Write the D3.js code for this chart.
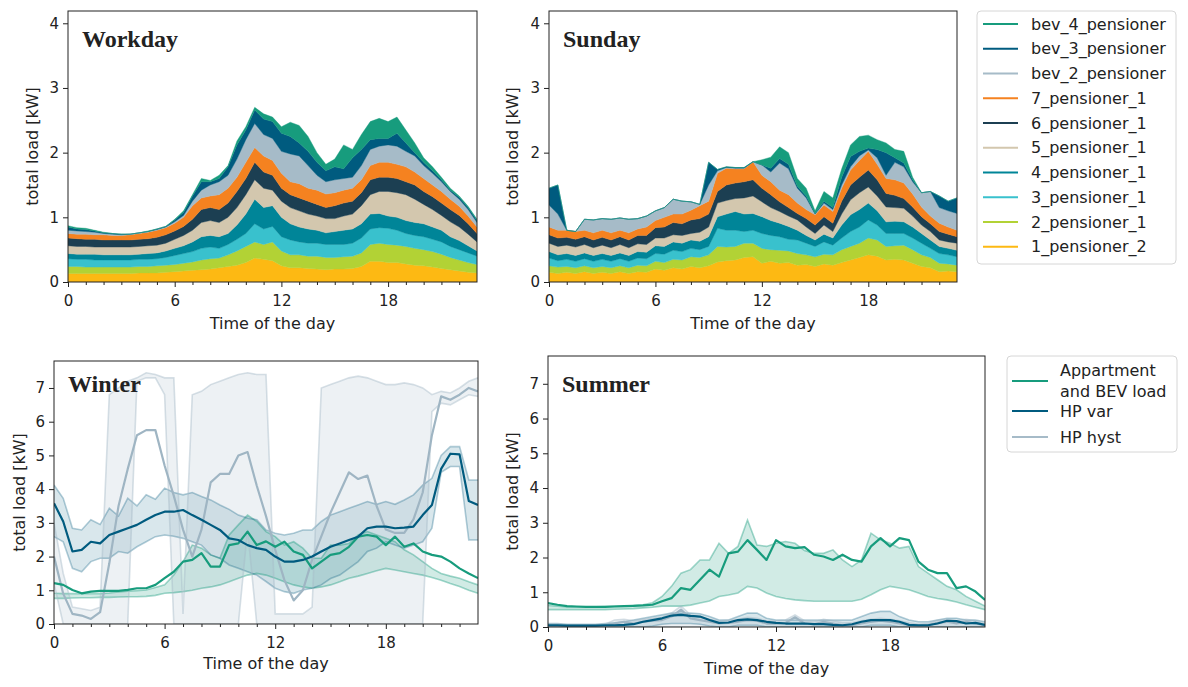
<!DOCTYPE html>
<html>
<head>
<meta charset="utf-8">
<script src="https://cdn.jsdelivr.net/npm/d3@7"></script>
<style>
  body { margin: 0; background: #fff; }
  text { font-family: "DejaVu Sans", sans-serif; fill: #222; }
</style>
</head>
<body>
<svg id="fig" width="1188" height="687"></svg>
<script>
// time of the day, half-hour steps
var hours = [0, 0.5, 1, 1.5, 2, 2.5, 3, 3.5, 4, 4.5, 5, 5.5, 6, 6.5, 7, 7.5, 8, 8.5, 9, 9.5,
  10, 10.5, 11, 11.5, 12, 12.5, 13, 13.5, 14, 14.5, 15, 15.5, 16, 16.5, 17, 17.5, 18, 18.5,
  19, 19.5, 20, 20.5, 21, 21.5, 22, 22.5, 23];
var hourTicks = [0, 6, 12, 18];

// stacked households, bottom to top
var householdNames = ['1_pensioner_2', '2_pensioner_1', '3_pensioner_1', '4_pensioner_1', '5_pensioner_1',
  '6_pensioner_1', '7_pensioner_1', 'bev_2_pensioner', 'bev_3_pensioner', 'bev_4_pensioner'];
var householdColors = ['#fdb913', '#b2d235', '#39c1cd', '#008598', '#d3c7ae',
  '#1c3f52', '#f58220', '#a6bbc8', '#005b7f', '#179c7d'];

// workday load per household [kW]
var wd_1_pensioner_2 = [.13,.13,.13,.13,.13,.13,.13,.13,.14,.14,.14,.15,.16,.17,.18,.19,.20,.22,.24,.26,.30,.37,.35,.33,.25,.22,.22,.21,.20,.19,.20,.20,.21,.24,.32,.32,.30,.30,.28,.26,.25,.23,.21,.19,.17,.15,.14];
var wd_2_pensioner_1 = [.11,.11,.10,.10,.10,.10,.10,.10,.10,.10,.11,.11,.11,.12,.13,.15,.16,.15,.18,.22,.25,.25,.23,.29,.23,.20,.20,.19,.20,.19,.18,.19,.19,.21,.26,.28,.28,.27,.27,.26,.25,.24,.22,.19,.17,.15,.13];
var wd_3_pensioner_1 = [.12,.11,.12,.11,.11,.11,.11,.11,.11,.11,.11,.12,.14,.15,.16,.18,.18,.15,.16,.18,.20,.28,.24,.24,.22,.23,.20,.20,.20,.20,.20,.19,.20,.23,.24,.24,.25,.23,.20,.20,.20,.19,.19,.17,.16,.15,.13];
var wd_4_pensioner_1 = [.08,.08,.08,.09,.08,.08,.08,.08,.08,.09,.09,.10,.11,.12,.15,.18,.18,.18,.17,.22,.30,.38,.33,.32,.30,.25,.23,.22,.20,.18,.20,.22,.22,.22,.23,.22,.19,.20,.20,.20,.20,.19,.18,.15,.14,.11,.08];
var wd_5_pensioner_1 = [.12,.12,.12,.11,.12,.12,.12,.12,.12,.12,.12,.12,.14,.16,.18,.22,.23,.22,.25,.27,.30,.30,.30,.24,.25,.25,.25,.23,.22,.22,.20,.22,.23,.28,.30,.34,.38,.38,.40,.36,.30,.27,.23,.23,.21,.18,.14];
var wd_6_pensioner_1 = [.12,.12,.11,.12,.11,.11,.11,.11,.11,.11,.12,.13,.13,.14,.17,.20,.20,.20,.22,.25,.25,.27,.25,.23,.20,.20,.20,.20,.18,.17,.20,.20,.20,.20,.23,.22,.22,.22,.20,.22,.20,.20,.19,.19,.18,.16,.13];
var wd_7_pensioner_1 = [.07,.07,.08,.07,.08,.07,.07,.08,.09,.10,.11,.11,.12,.14,.21,.18,.18,.23,.23,.22,.25,.23,.25,.23,.23,.20,.22,.20,.22,.21,.20,.20,.20,.20,.22,.23,.23,.22,.23,.20,.20,.18,.18,.16,.14,.12,.10];
var wd_bev_2_pensioner = [.05,.05,.04,.04,.02,.02,.01,.01,.01,.01,.01,.01,.02,.03,.07,.12,.17,.20,.20,.28,.35,.37,.33,.34,.34,.43,.43,.35,.23,.19,.20,.18,.17,.22,.25,.25,.27,.28,.24,.25,.20,.18,.15,.12,.11,.10,.07];
var wd_bev_3_pensioner = [.05,.03,.03,.02,.01,.01,.01,0,0,0,.01,.01,.03,.05,.08,.13,.05,.05,.13,.22,.15,.21,.24,.26,.28,.27,.20,.22,.20,.17,.20,.15,.30,.25,.15,.12,.10,.20,.13,.05,.05,.04,.03,.02,.03,.03,.03];
var wd_bev_4_pensioner = [.02,.02,.02,.01,.01,0,0,0,0,.01,0,0,.01,.02,.02,.05,.02,.05,.02,.06,.05,.04,.08,.07,.10,.22,.27,.23,.15,.10,.12,.37,.13,.23,.28,.31,.26,.25,.20,.15,.07,.06,.04,.03,.02,.02,.02];

// sunday load per household [kW]
var su_1_pensioner_2 = [.15,.13,.15,.13,.16,.13,.15,.13,.16,.13,.16,.15,.20,.18,.22,.20,.24,.22,.25,.31,.33,.34,.38,.39,.29,.32,.29,.30,.26,.27,.24,.28,.26,.30,.34,.38,.42,.40,.34,.35,.34,.29,.24,.22,.16,.17,.16];
var su_2_pensioner_1 = [.10,.10,.09,.09,.09,.09,.09,.09,.09,.09,.10,.10,.12,.12,.13,.14,.15,.16,.17,.24,.21,.21,.22,.21,.23,.18,.20,.18,.18,.15,.15,.15,.16,.20,.21,.22,.26,.25,.21,.21,.23,.21,.18,.16,.13,.11,.10];
var su_3_pensioner_1 = [.12,.10,.11,.10,.11,.10,.11,.10,.11,.10,.11,.11,.12,.13,.14,.13,.13,.12,.13,.28,.26,.25,.18,.20,.23,.22,.21,.18,.21,.18,.16,.19,.15,.18,.23,.25,.28,.23,.20,.19,.18,.18,.18,.14,.15,.14,.13];
var su_4_pensioner_1 = [.10,.09,.09,.09,.09,.09,.09,.09,.09,.09,.10,.10,.12,.12,.13,.13,.13,.13,.15,.18,.25,.29,.27,.26,.26,.23,.21,.20,.15,.12,.10,.12,.11,.20,.26,.27,.26,.22,.18,.19,.18,.17,.15,.13,.11,.10,.10];
var su_5_pensioner_1 = [.13,.13,.13,.13,.13,.12,.13,.12,.13,.12,.12,.12,.12,.13,.11,.12,.10,.14,.15,.21,.21,.20,.25,.27,.23,.20,.18,.16,.16,.13,.10,.14,.10,.17,.23,.26,.25,.23,.23,.21,.21,.17,.13,.13,.10,.10,.11];
var su_6_pensioner_1 = [.13,.13,.12,.12,.12,.12,.12,.12,.12,.12,.13,.14,.16,.17,.19,.18,.21,.21,.20,.18,.24,.24,.25,.25,.21,.20,.15,.13,.10,.13,.13,.13,.13,.20,.23,.24,.26,.25,.21,.19,.15,.14,.13,.12,.13,.12,.10];
var su_7_pensioner_1 = [.12,.12,.11,.12,.10,.11,.11,.11,.10,.11,.10,.13,.11,.15,.13,.15,.15,.20,.20,.28,.26,.22,.20,.28,.20,.20,.18,.20,.16,.14,.16,.18,.18,.20,.23,.26,.29,.24,.23,.24,.24,.20,.15,.12,.13,.11,.10];
var su_bev_2_pensioner = [.34,.25,0,0,.17,.20,.18,.21,.19,.21,.16,.17,.15,.15,.23,.20,.13,.02,.25,.04,.01,.01,.01,0,.16,.15,.42,.40,.23,.18,.01,.03,.03,.05,.05,.07,.02,.10,.05,.27,.25,.19,.22,.38,.24,.25,.26];
var su_bev_3_pensioner = [.26,.45,0,0,0,0,0,0,0,0,0,0,0,0,0,0,0,0,.35,.02,.01,.01,.01,0,0,.06,.07,.07,.03,.03,.01,.03,.03,.12,.16,.07,.03,.13,.35,.07,.06,.03,0,0,.18,.15,.24];
var su_bev_4_pensioner = [0,0,0,0,0,0,0,0,0,0,0,0,0,0,0,0,0,0,0,0,0,0,0,0,.08,.17,.18,.18,.12,.12,.04,.15,.15,.13,.18,.23,.20,.15,.15,.13,.18,.04,0,0,0,0,0];

// heat pump scenarios: mean line and band [kW]
var scenarioNames = ['Appartment\nand BEV load', 'HP var', 'HP hyst'];
var scenarioColors = ['#179c7d', '#005b7f', '#a6bbc8'];

var winterAppMean = [1.21,1.16,1.01,.91,.96,.98,.98,.98,1.01,1.06,1.06,1.16,1.36,1.55,1.85,1.9,2.1,1.7,1.7,2.34,2.39,2.74,2.34,2.45,2.29,2.44,2.15,2.05,1.65,1.85,2.05,2.1,2.29,2.59,2.64,2.59,2.34,2.59,2.29,2.39,2.15,2.05,2.0,1.85,1.65,1.5,1.36];
var winterAppHigh = [.91,.9,.9,.9,.9,.9,.92,.95,.97,.99,1.01,1.08,1.16,1.45,1.85,2.34,2.25,2.05,1.95,2.64,2.94,3.23,3.04,2.74,2.59,2.34,2.44,2.25,1.95,1.95,2.34,2.34,2.39,2.64,2.74,2.64,2.54,2.44,2.2,2.05,1.85,1.65,1.5,1.42,1.36,1.25,1.16];
var winterAppLow = [.76,.76,.77,.78,.78,.79,.79,.8,.81,.81,.82,.85,.91,.93,.96,1.0,1.06,1.1,1.16,1.25,1.36,1.45,1.5,1.45,1.36,1.25,1.16,1.1,1.06,1.1,1.16,1.25,1.36,1.42,1.5,1.58,1.65,1.6,1.55,1.5,1.45,1.38,1.3,1.2,1.11,1.0,.91];
var winterVarMean = [3.58,3.04,2.15,2.2,2.44,2.39,2.64,2.74,2.84,2.94,3.09,3.23,3.33,3.33,3.38,3.23,3.09,2.94,2.79,2.54,2.49,2.34,2.25,2.2,2.0,1.85,1.85,1.9,2.0,2.15,2.29,2.39,2.49,2.59,2.84,2.89,2.89,2.84,2.86,2.89,3.23,3.53,4.6,5.05,5.03,3.65,3.53];
var winterVarHigh = [4.12,3.73,2.84,2.79,3.09,2.95,3.43,3.2,3.73,3.5,3.83,3.7,4.03,3.9,3.83,3.9,3.78,3.68,3.53,3.4,3.23,3.14,3.09,2.79,2.69,2.64,2.69,2.79,2.79,3.04,3.23,3.33,3.43,3.53,3.63,3.55,3.63,3.55,3.68,3.83,4.12,4.32,5.0,5.26,5.26,4.27,4.27];
var winterVarLow = [2.59,2.44,1.65,1.55,1.85,1.95,1.95,2.15,2.1,2.29,2.44,2.59,2.64,2.6,2.54,2.44,2.34,2.05,1.95,1.75,1.65,1.55,1.45,1.26,1.06,.96,.91,1.01,1.06,1.16,1.35,1.45,1.65,1.85,2.15,2.25,2.44,2.34,2.25,2.34,2.44,2.84,4.5,4.67,4.67,2.49,2.49];
var winterHystMean = [2.0,.9,.3,.25,.15,.35,1.8,3.5,4.6,5.6,5.75,5.75,4.7,3.8,2.8,2.0,2.8,4.2,4.45,4.45,5.0,5.1,4.1,3.2,2.2,1.3,.7,1.0,1.9,2.6,3.3,3.9,4.5,4.3,4.4,3.5,2.8,2.7,2.7,3.1,3.9,5.6,6.75,6.65,6.8,7.0,6.9];
var winterHystHigh = [3.0,1.5,.5,.45,.4,.5,6.8,7.0,7.2,7.3,7.45,7.4,7.3,7.3,.3,6.8,6.9,7.1,7.2,7.3,7.4,7.45,7.4,7.4,.3,.3,.3,.3,.5,7.0,7.1,7.2,7.3,7.35,7.3,7.2,7.1,7.1,7.15,7.1,7.0,6.8,6.9,6.85,7.0,7.2,7.3];
var winterHystLow = [1.2,0,0,0,0,0,0,0,0,7.2,7.3,7.3,6.8,0,0,0,0,0,0,0,0,2.8,0,0,0,0,0,0,0,0,0,0,0,0,0,0,0,0,0,0,0,6.3,6.55,6.5,6.65,6.8,6.75];

var summerAppMean = [.69,.64,.6,.59,.58,.58,.58,.59,.6,.61,.62,.64,.74,.83,1.12,1.07,1.36,1.65,1.45,2.12,2.17,2.5,2.22,1.93,2.5,2.32,2.27,2.3,2.08,2.03,1.93,2.08,1.93,1.88,2.32,2.56,2.32,2.56,2.5,1.88,1.65,1.55,1.55,1.12,1.17,1.02,.78];
var summerAppHigh = [.62,.6,.58,.58,.58,.58,.59,.6,.61,.62,.64,.7,.88,1.17,1.55,1.65,1.93,1.93,2.41,2.12,2.32,3.08,2.36,2.32,2.41,2.46,2.41,2.2,2.12,2.12,2.22,1.93,1.74,1.93,2.7,2.51,2.41,2.27,2.32,1.74,1.55,1.36,1.17,1.07,.88,.74,.6];
var summerAppLow = [.5,.5,.5,.5,.5,.5,.5,.51,.52,.53,.55,.57,.6,.6,.6,.63,.69,.75,.88,.92,.98,1.17,1.12,.98,.88,.82,.78,.76,.74,.74,.74,.74,.74,.8,.93,1.07,1.17,1.12,1.07,.98,.88,.82,.78,.72,.64,.57,.5];
var summerVarMean = [.05,.05,.04,.04,.04,.04,.05,.05,.06,.08,.15,.2,.25,.33,.35,.32,.3,.2,.12,.13,.2,.22,.2,.15,.12,.1,.1,.1,.08,.08,.06,.05,.08,.15,.2,.2,.2,.15,.06,.05,.05,.1,.18,.17,.1,.12,.06];
var summerVarHigh = [.1,.1,.08,.08,.08,.08,.1,.12,.15,.2,.25,.3,.35,.4,.4,.4,.38,.3,.2,.2,.3,.4,.4,.25,.2,.2,.2,.2,.2,.2,.2,.2,.2,.3,.4,.45,.45,.3,.2,.15,.15,.2,.25,.25,.2,.2,.15];
var summerVarLow = [0,0,0,0,0,0,0,0,0,0,0,.03,.08,.1,.1,.1,.08,.03,0,0,.05,.05,.05,0,0,0,0,0,0,0,0,0,0,0,.05,.05,.05,0,0,0,0,0,0,0,0,0,0];
var summerHystMean = [.03,.03,.02,.02,.02,.02,.03,.1,.15,.1,.15,.18,.2,.3,.5,.25,.2,.15,.1,.12,.15,.2,.18,.1,.1,.12,.28,.1,.08,.15,.1,.05,.05,.1,.15,.18,.15,.1,.05,.03,.05,.12,.15,.1,.15,.1,.05];
var summerHystHigh = [.08,.08,.06,.06,.06,.06,.08,.2,.22,.18,.22,.25,.28,.4,.6,.35,.28,.22,.18,.2,.22,.28,.25,.18,.18,.2,.35,.18,.15,.22,.18,.12,.12,.18,.22,.25,.22,.18,.12,.08,.1,.2,.22,.18,.22,.18,.1];
var summerHystLow = [0,0,0,0,0,0,0,0,0,0,0,0,0,0,0,0,0,0,0,0,0,0,0,0,0,0,0,0,0,0,0,0,0,0,0,0,0,0,0,0,0,0,0,0,0,0,0];

var svg = d3.select('#fig');
svg.append('rect').attr('width', 1188).attr('height', 687).attr('fill', '#fff');

var clipCount = 0;

// panel - frame, axes and labels; returns the group and scales
function panel(box, ymax, yticks, title) {
  var x = d3.scaleLinear().domain([0, 23]).range([box.x0, box.x1]);
  var y = d3.scaleLinear().domain([0, ymax]).range([box.y1, box.y0]);
  var g = svg.append('g');

  var id = 'clip' + (clipCount++);
  g.append('clipPath').attr('id', id)
    .append('rect')
    .attr('x', box.x0).attr('y', box.y0)
    .attr('width', box.x1 - box.x0).attr('height', box.y1 - box.y0);
  var plot = g.append('g').attr('clip-path', 'url(#' + id + ')');

  // minor hour ticks
  g.append('g')
    .attr('transform', 'translate(0,' + box.y1 + ')')
    .call(d3.axisBottom(x).tickValues(d3.range(1, 23).filter(function (h) { return h % 6; }))
      .tickSize(3).tickFormat(''))
    .call(function (a) { a.select('.domain').remove(); });

  g.append('g')
    .attr('transform', 'translate(0,' + box.y1 + ')')
    .call(d3.axisBottom(x).tickValues(hourTicks).tickSize(5).tickPadding(8))
    .call(function (a) { a.select('.domain').remove(); });

  g.append('g')
    .attr('transform', 'translate(' + box.x0 + ',0)')
    .call(d3.axisLeft(y).tickValues(yticks).tickFormat(d3.format('d')).tickSize(5).tickPadding(4))
    .call(function (a) { a.select('.domain').remove(); });

  g.selectAll('.tick line').attr('stroke', '#222');
  g.selectAll('.tick text').attr('font-size', 15).attr('font-family', '"DejaVu Sans", sans-serif').attr('fill', '#222');

  g.append('text')
    .attr('transform', 'translate(' + box.ylab + ',' + ((box.y0 + box.y1) / 2) + ') rotate(-90)')
    .attr('text-anchor', 'middle').attr('dy', '0.35em')
    .attr('font-size', 16)
    .text('total load [kW]');

  g.append('text')
    .attr('x', (box.x0 + box.x1) / 2).attr('y', box.xlab)
    .attr('text-anchor', 'middle').attr('dy', '0.35em')
    .attr('font-size', 16)
    .text('Time of the day');

  return { g: g, plot: plot, x: x, y: y, box: box, title: title };
}

function frame(p) {
  p.g.append('rect')
    .attr('x', p.box.x0).attr('y', p.box.y0)
    .attr('width', p.box.x1 - p.box.x0).attr('height', p.box.y1 - p.box.y0)
    .attr('fill', 'none').attr('stroke', '#222').attr('stroke-width', 1);
  p.g.append('text')
    .attr('x', p.box.x0 + 14).attr('y', p.box.title)
    .style('font-family', '"Liberation Serif", "DejaVu Serif", serif')
    .attr('font-weight', 'bold').attr('font-size', 24)
    .attr('fill', '#111')
    .text(p.title);
}

function stackPanel(p, seriesList) {
  var rows = hours.map(function (h, i) {
    var r = { t: h };
    householdNames.forEach(function (k, j) { r[k] = seriesList[j][i]; });
    return r;
  });
  var layers = d3.stack().keys(householdNames)(rows);
  var area = d3.area()
    .x(function (d) { return p.x(d.data.t); })
    .y0(function (d) { return p.y(d[0]); })
    .y1(function (d) { return p.y(d[1]); });
  p.plot.selectAll('path.layer').data(layers).enter().append('path')
    .attr('class', 'layer')
    .attr('d', area)
    .attr('fill', function (d, i) { return householdColors[i]; })
    .attr('stroke', function (d, i) { return householdColors[i]; })
    .attr('stroke-width', 0.4);
  frame(p);
}

function bandPanel(p, sets) {
  var band = d3.area()
    .x(function (d, i) { return p.x(hours[i]); })
    .y0(function (d) { return p.y(d[0]); })
    .y1(function (d) { return p.y(d[1]); });
  var line = d3.line()
    .x(function (d, i) { return p.x(hours[i]); })
    .y(function (d) { return p.y(d); });
  var fillOp = [0.2, 0.15, 0.2];
  var edgeOp = [0.4, 0.3, 0.45];

  sets.forEach(function (s, k) {
    var pairs = s.low.map(function (v, i) { return [v, s.high[i]]; });
    p.plot.append('path').attr('d', band(pairs))
      .attr('fill', scenarioColors[k]).attr('fill-opacity', fillOp[k]);
  });
  sets.forEach(function (s, k) {
    [s.low, s.high].forEach(function (edge) {
      p.plot.append('path').attr('d', line(edge))
        .attr('fill', 'none').attr('stroke', scenarioColors[k])
        .attr('stroke-opacity', edgeOp[k]).attr('stroke-width', 1.6);
    });
  });
  [2, 0, 1].forEach(function (k) {
    p.plot.append('path').attr('d', line(sets[k].mean))
      .attr('fill', 'none').attr('stroke', k === 2 ? '#9fb5c3' : scenarioColors[k])
      .attr('stroke-width', 2.2).attr('stroke-linejoin', 'round');
  });
  frame(p);
}

// top row
var workday = panel({ x0: 68, x1: 477, y0: 11, y1: 282, ylab: 32, xlab: 323, title: 47 }, 4.19, [0, 1, 2, 3, 4], 'Workday');
stackPanel(workday, [wd_1_pensioner_2, wd_2_pensioner_1, wd_3_pensioner_1, wd_4_pensioner_1, wd_5_pensioner_1,
  wd_6_pensioner_1, wd_7_pensioner_1, wd_bev_2_pensioner, wd_bev_3_pensioner, wd_bev_4_pensioner]);

var sunday = panel({ x0: 549, x1: 957, y0: 11, y1: 282, ylab: 512, xlab: 323, title: 47 }, 4.19, [0, 1, 2, 3, 4], 'Sunday');
stackPanel(sunday, [su_1_pensioner_2, su_2_pensioner_1, su_3_pensioner_1, su_4_pensioner_1, su_5_pensioner_1,
  su_6_pensioner_1, su_7_pensioner_1, su_bev_2_pensioner, su_bev_3_pensioner, su_bev_4_pensioner]);

// bottom row
var winter = panel({ x0: 54, x1: 478, y0: 361, y1: 624, ylab: 19, xlab: 663, title: 392 }, 7.8, [0, 1, 2, 3, 4, 5, 6, 7], 'Winter');
bandPanel(winter, [
  { mean: winterAppMean, low: winterAppLow, high: winterAppHigh },
  { mean: winterVarMean, low: winterVarLow, high: winterVarHigh },
  { mean: winterHystMean, low: winterHystLow, high: winterHystHigh }
]);

var summer = panel({ x0: 548, x1: 985, y0: 356, y1: 627, ylab: 512, xlab: 668, title: 392 }, 7.8, [0, 1, 2, 3, 4, 5, 6, 7], 'Summer');
bandPanel(summer, [
  { mean: summerAppMean, low: summerAppLow, high: summerAppHigh },
  { mean: summerVarMean, low: summerVarLow, high: summerVarHigh },
  { mean: summerHystMean, low: summerHystLow, high: summerHystHigh }
]);

// legends
var leg1 = svg.append('g');
leg1.append('rect').attr('x', 977).attr('y', 11).attr('width', 199).attr('height', 253)
  .attr('rx', 4).attr('fill', '#fff').attr('stroke', '#d6d6d6');
householdNames.slice().reverse().forEach(function (name, i) {
  var yy = 24 + i * 24.75;
  var c = householdColors[householdNames.length - 1 - i];
  leg1.append('line').attr('x1', 983).attr('x2', 1018).attr('y1', yy).attr('y2', yy)
    .attr('stroke', c).attr('stroke-width', 2.2);
  leg1.append('text').attr('x', 1031).attr('y', yy).attr('dy', '0.35em')
    .attr('font-size', 16).text(name);
});

var leg2 = svg.append('g');
leg2.append('rect').attr('x', 1007).attr('y', 356).attr('width', 170).attr('height', 96)
  .attr('rx', 4).attr('fill', '#fff').attr('stroke', '#d6d6d6');
var leg2Rows = [381, 411, 437];
scenarioNames.forEach(function (name, i) {
  var yy = leg2Rows[i];
  leg2.append('line').attr('x1', 1012).attr('x2', 1048).attr('y1', yy).attr('y2', yy)
    .attr('stroke', scenarioColors[i]).attr('stroke-width', 2.2);
  var parts = name.split('\n');
  var t = leg2.append('text').attr('x', 1060).attr('y', yy - (parts.length - 1) * 10.5)
    .attr('font-size', 16);
  parts.forEach(function (part, j) {
    t.append('tspan').attr('x', 1060).attr('dy', j === 0 ? '0.35em' : 21).text(part);
  });
});
</script>
</body>
</html>
